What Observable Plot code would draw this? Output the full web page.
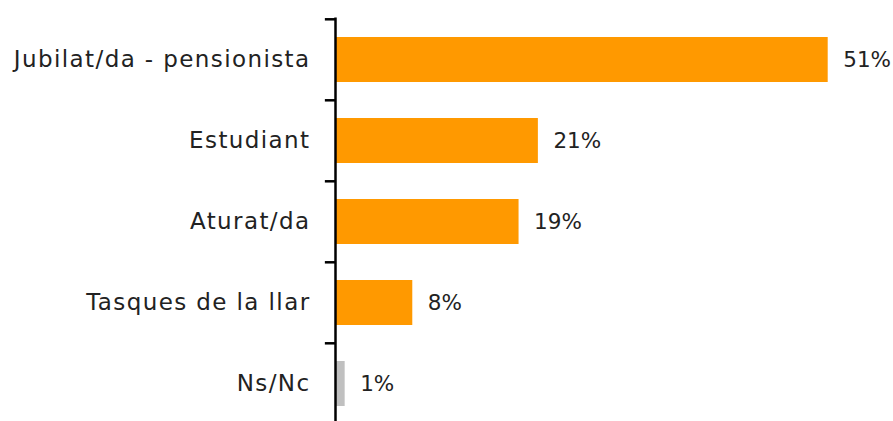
<!DOCTYPE html>
<html>
<head>
<meta charset="utf-8">
<script src="https://cdn.jsdelivr.net/npm/d3@7"></script>
<script src="https://cdn.jsdelivr.net/npm/@observablehq/plot@0.6"></script>
<style>
  html, body { margin: 0; padding: 0; background: #fff; overflow: hidden; }
  g[aria-label="y-axis tick label"] text { letter-spacing: 1.4px; }
</style>
</head>
<body>
<div id="chart"></div>
<script>
const categories = ["Jubilat/da - pensionista", "Estudiant", "Aturat/da", "Tasques de la llar", "Ns/Nc"];
const values = [51, 21, 19, 8, 1];
const colors = ["#FF9900", "#FF9900", "#FF9900", "#FF9900", "#C0C0C0"];

const data = categories.map((c, i) => ({category: c, value: values[i], color: colors[i]}));

const width = 893, height = 421;
const marginTop = 17.5, marginBottom = -3.5;
const step = (height - marginTop - marginBottom) / categories.length;
const fontFamily = "'DejaVu Sans', sans-serif";

const chart = Plot.plot({
  width, height,
  marginLeft: 335, marginRight: 17, marginTop, marginBottom,
  style: {fontFamily, background: "#fff", overflow: "visible"},
  x: {domain: [0, 56], axis: null},
  y: {domain: categories, paddingInner: 0.45, paddingOuter: 0.225, align: 0.5, label: null},
  marks: [
    Plot.barX(data, {y: "category", x: "value", fill: "color"}),
    Plot.ruleX([0], {stroke: "#000", strokeWidth: 2.5}),
    Plot.ruleY(categories, {y: d => d, x1: -1.05, x2: 0, dy: -step / 2, stroke: "#000", strokeWidth: 2.5}),
    Plot.axisY({tickSize: 0, tickPadding: 25, fontSize: 23, fill: "#222", label: null}),
    Plot.text(data, {y: "category", x: "value", text: d => d.value + "%", dx: 15, textAnchor: "start", fontSize: 21.5, fill: "#222"})
  ]
});
document.getElementById("chart").appendChild(chart);
</script>
</body>
</html>
